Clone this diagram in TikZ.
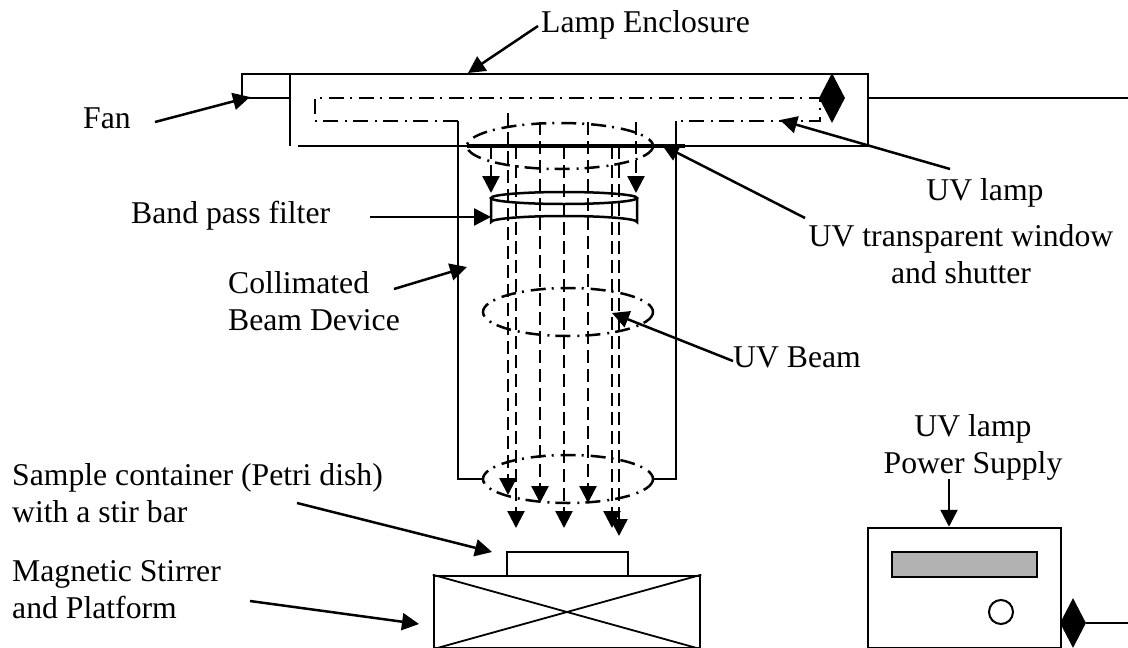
\documentclass[tikz,border=0pt]{standalone}
\usepackage{fontspec}
\setmainfont{Liberation Serif}
\usetikzlibrary{positioning,arrows.meta,shapes.geometric,calc}
\tikzset{
  wall/.style    ={draw=black, line width=2.5pt},
  flow/.style    ={-{Triangle[length=17pt,width=17pt]}, draw=black, line width=2.5pt},
  beam/.style    ={-{Triangle[length=17pt,width=17pt]}, draw=black, line width=2.5pt, dash pattern=on 13pt off 6pt},
  dashdot/.style ={draw=black, line width=2.5pt, dash pattern=on 15pt off 6pt on 2pt off 7pt},
  lbl/.style     ={font=\fontsize{31.7}{37}\selectfont, inner sep=0pt, align=left, anchor=base west},
  clbl/.style    ={font=\fontsize{31.7}{37}\selectfont, inner sep=0pt, align=center, anchor=base},
  seal/.style    ={diamond, fill=black, draw=none, inner sep=0pt, minimum width=26pt, minimum height=50pt}
}
\begin{document}
\begin{tikzpicture}[x=1pt,y=-1pt]
\useasboundingbox (0,0) rectangle (1128,648);

%% ---- Lamp enclosure ------------------------------------------------
\draw[wall] (290,98) -- (242,98) -- (242,74) -- (868,74) -- (868,146) -- (298,146);
\draw[wall] (290,74) -- (290,146);
\draw[dashdot] (458,121) -- (315,121) -- (315,98) -- (820,98) -- (820,121) -- (676,121);
\draw[line width=3.5pt] (467,146) -- (685,146);
\node[seal] (lampseal) at (832,98) {};
\coordinate (lampfeed) at (1128,98);
\draw[wall] (868,98) -- (lampfeed);

%% ---- Collimated beam device ----------------------------------------
\draw[wall] (483,479) -- (458,479) -- (458,121);
\draw[wall] (652,479) -- (676,479) -- (676,121);
\draw[dashdot] (560,146) ellipse [x radius=93, y radius=23];
\draw[dashdot] (568,312) ellipse [x radius=85, y radius=24];
\draw[dashdot] (568,479) ellipse [x radius=85, y radius=24];

%% ---- Band pass filter ----------------------------------------------
\draw[wall, fill=white] (491,198) -- (491,222) arc [start angle=180, end angle=360, x radius=73, y radius=6]
      -- (637,198);
\draw[wall] (564,198) ellipse [x radius=73, y radius=6];

%% ---- Beam ----------------------------------------------------------
\foreach \bx/\by/\ey in {491/146/193, 636/122/193, 508/113/495, 516/146/528, 540/122/503,
                         564/146/528, 588/122/503, 612/146/528, 619/146/536}
  \draw[beam] (\bx,\by) -- (\bx,\ey);

%% ---- Stirrer and dish ----------------------------------------------
\node[draw=black, line width=2.5pt, minimum width=121pt, minimum height=24pt, inner sep=0pt]
      (dish) at (567.5,564) {};
\node[draw=black, line width=2.5pt, minimum width=266pt, minimum height=72pt, inner sep=0pt]
      (stirrer) at (567,612) {};
\draw[line width=1.8pt] (stirrer.north west) -- (stirrer.south east);
\draw[line width=1.8pt] (stirrer.south west) -- (stirrer.north east);

%% ---- Power supply --------------------------------------------------
\node[draw=black, line width=2.5pt, minimum width=193pt, minimum height=120pt, inner sep=0pt]
      (supply) at (964.5,588) {};
\node[draw=black, fill=black!30, line width=2.5pt, minimum width=145pt, minimum height=25pt, inner sep=0pt]
      (display) at (964.5,564.5) {};
\node[circle, draw=black, line width=2pt, minimum size=24pt, inner sep=0pt] (knob) at (1001,612) {};
\node[seal] (supplyseal) at (1073,623) {};
\coordinate (supplyfeed) at (1128,623);
\draw[wall] (supplyseal.east) -- (supplyfeed);

%% ---- Labels --------------------------------------------------------
\node[lbl] (lamptitle) at (541,32) {Lamp Enclosure};
\node[lbl] (fan) at (83,128) {Fan};
\node[lbl] (filter) at (131,223) {Band pass filter};
\node[lbl] (cbd) at (228,330) {Collimated\\Beam Device};
\node[lbl] (uvbeam) at (733,367) {UV Beam};
\node[clbl] (uvlamp) at (985,200) {UV lamp};
\node[clbl] (window) at (961,283) {UV transparent window\\and shutter};
\node[clbl] (supplylbl) at (973,473) {UV lamp\\Power Supply};
\node[lbl] (sample) at (12,522) {Sample container (Petri dish)\\with a stir bar};
\node[lbl] (magnet) at (12,618) {Magnetic Stirrer\\and Platform};

%% ---- Pointers ------------------------------------------------------
\coordinate (lamptail) at (538,26);
\coordinate (fantail) at (155,122);
\coordinate (filtertail) at (370,217);
\coordinate (cbdtail) at (394,289);
\coordinate (beamtail) at (733,361);
\coordinate (uvlamptail) at (950,169);
\coordinate (windowtail) at (805,218);
\coordinate (supplytail) at (949,479);
\coordinate (sampletail) at (297,503);
\coordinate (magnettail) at (250,601);
\draw[flow] (lamptail) -- (468,73);
\draw[flow] (fantail) -- (250,97);
\draw[flow] (filtertail) -- (491,217);
\draw[flow] (cbdtail) -- (467,267);
\draw[flow] (beamtail) -- (612,313);
\draw[flow] (uvlamptail) -- (780,120);
\draw[flow] (windowtail) -- (662,145);
\draw[flow] (supplytail) -- (supply.north -| supplytail);
\draw[flow] (sampletail) -- (492,552);
\draw[flow] (magnettail) -- (419,624);
\end{tikzpicture}
\end{document}
